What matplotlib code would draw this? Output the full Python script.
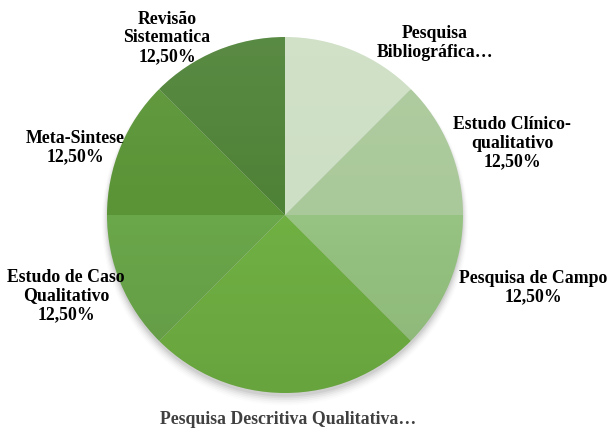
import matplotlib
matplotlib.use("Agg")
import matplotlib.pyplot as plt
import numpy as np
from matplotlib.patches import Circle

labels = ["Pesquisa\nBibliográfica…", "Estudo Clínico-\nqualitativo\n12,50%",
          "Pesquisa de Campo\n12,50%", "Pesquisa Descritiva Qualitativa…",
          "Estudo de Caso\nQualitativo\n12,50%", "Meta-Sintese\n12,50%",
          "Revisão\nSistematica\n12,50%"]
values = [12.5, 12.5, 12.5, 25.0, 12.5, 12.5, 12.5]
colors = ["#cddfc4", "#aac99a", "#96c381", "#70b043", "#6aa64a", "#5a9436", "#4e8236"]
label_colors = ["#000000", "#000000", "#000000", "#404040", "#000000", "#000000", "#000000"]
# label centre positions in pixels (layout)
label_px = [(435, 43), (512, 143), (533, 288), (288, 420), (66, 296), (75, 148), (167, 38)]

W, H = 609, 430
cx, cy, R = 285, 215, 178

fig = plt.figure(figsize=(W / 100, H / 100), dpi=100)
ax = fig.add_axes([0, 0, 1, 1])
ax.axis("off")

# soft shadow
for i, a in enumerate(np.linspace(0.05, 0.01, 6)):
    ax.add_patch(Circle((0.0, -0.02 - 0.004 * i), 1.0 + 0.006 * i, color="black",
                        alpha=a, lw=0, zorder=0))

wedges, _ = ax.pie(values, colors=colors, startangle=90, counterclock=False,
                   radius=1.0, wedgeprops=dict(linewidth=0))
for w in wedges:
    w.set_zorder(1)

# vertical light gradient overlay
grad = np.zeros((256, 1, 4))
t = np.linspace(0, 1, 256)
grad[:, 0, :3] = np.where(t[:, None] < 0.5, 1.0, 0.0)
grad[:, 0, 3] = np.abs(t - 0.5) * 0.14
im = ax.imshow(grad, extent=(-1, 1, -1, 1), origin="upper", aspect="auto", zorder=2,
               interpolation="bilinear")
clip = Circle((0, 0), 1.0, transform=ax.transData)
im.set_clip_path(clip)

for lab, (px, py), c in zip(labels, label_px, label_colors):
    ax.text((px - cx) / R, (cy - py) / R, lab, ha="center", va="center",
            fontsize=12.8, fontweight="bold", family="Liberation Serif", color=c,
            linespacing=1.1, zorder=5)

ax.set_aspect("auto")
ax.set_xlim(-cx / R, (W - cx) / R)
ax.set_ylim((cy - H) / R, cy / R)
ax.set_position([0, 0, 1, 1])

fig.savefig("out.png", dpi=100)
